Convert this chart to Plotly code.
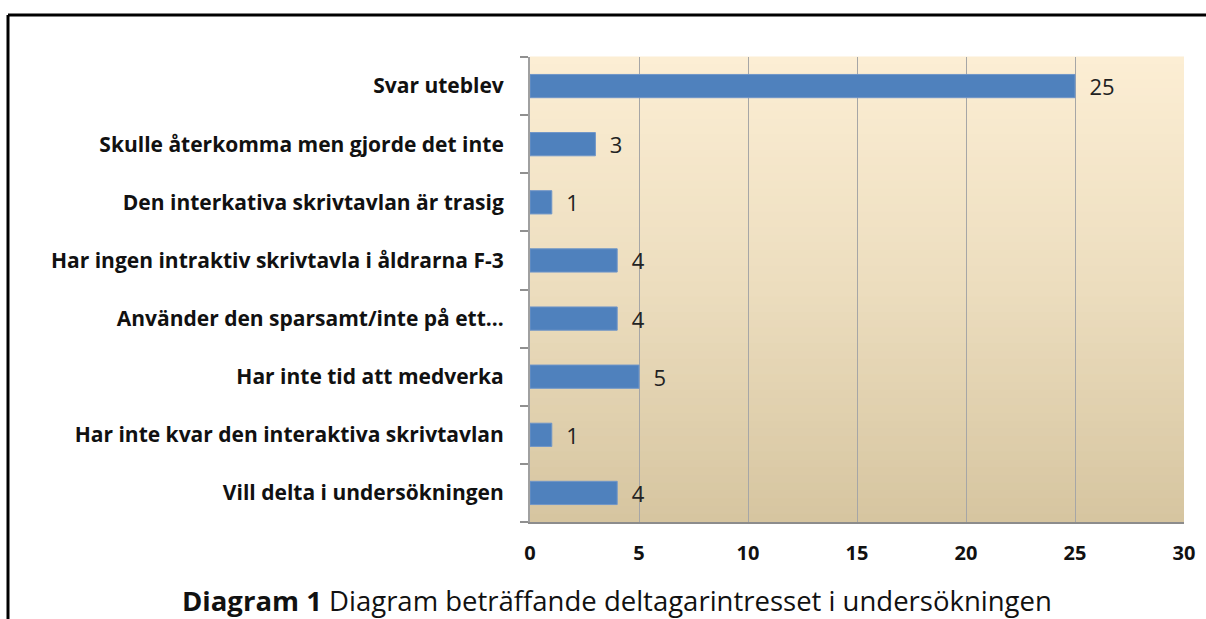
import plotly.graph_objects as go

categories = [
    "Svar uteblev",
    "Skulle återkomma men gjorde det inte",
    "Den interkativa skrivtavlan är trasig",
    "Har ingen intraktiv skrivtavla i åldrarna F-3",
    "Använder den sparsamt/inte på ett…",
    "Har inte tid att medverka",
    "Har inte kvar den interaktiva skrivtavlan",
    "Vill delta i undersökningen",
]
values = [25, 3, 1, 4, 4, 5, 1, 4]
x_ticks = [0, 5, 10, 15, 20, 25, 30]
title_bold = "Diagram 1"
title_rest = "Diagram beträffande deltagarintresset i undersökningen"

W, H = 1206, 619
L, R, T, B = 530, 22, 57, 97
pw, ph = W - L - R, H - T - B

def px_x(x):
    return (x - L) / pw

def px_y(y):
    return (H - B - y) / ph

FONT = "Open Sans"

fig = go.Figure()
fig.add_trace(go.Bar(
    y=categories,
    x=values,
    orientation="h",
    marker=dict(color="#4F81BD", line=dict(color="#7096C8", width=1)),
    text=values,
    texttemplate="\u00a0\u00a0%{x}",
    textposition="outside",
    constraintext="none",
    textfont=dict(family=FONT, size=22, color="#222222"),
    cliponaxis=False,
    showlegend=False,
))

shapes = []
top = (252, 238, 212)
mid = (236, 221, 190)
bot = (214, 197, 160)
n = 60
for i in range(n):
    f = (i + 0.5) / n
    if f < 0.5:
        g = f / 0.5
        c = tuple(round(top[k] + (mid[k] - top[k]) * g) for k in range(3))
    else:
        g = (f - 0.5) / 0.5
        c = tuple(round(mid[k] + (bot[k] - mid[k]) * g) for k in range(3))
    y1 = 1 - i / n
    y0 = 1 - (i + 1) / n
    shapes.append(dict(type="rect", xref="paper", yref="paper", x0=0, x1=1,
                       y0=y0 - 0.001, y1=y1 + 0.001, fillcolor="rgb(%d,%d,%d)" % c,
                       line=dict(width=0), layer="below"))
shapes.append(dict(type="line", xref="paper", yref="paper",
                   x0=px_x(8), x1=px_x(1215), y0=px_y(15), y1=px_y(15),
                   line=dict(color="black", width=3), layer="above"))
shapes.append(dict(type="line", xref="paper", yref="paper",
                   x0=px_x(8), x1=px_x(8), y0=px_y(15), y1=px_y(630),
                   line=dict(color="black", width=3), layer="above"))

fig.update_layout(
    width=W, height=H,
    margin=dict(l=L, r=R, t=T, b=B),
    paper_bgcolor="white",
    plot_bgcolor="rgba(0,0,0,0)",
    bargap=0.6,
    shapes=shapes,
    font=dict(family=FONT),
    annotations=[dict(
        text="<b>%s</b> %s" % (title_bold, title_rest),
        xref="paper", yref="paper", x=px_x(617), y=px_y(600),
        xanchor="center", yanchor="middle", showarrow=False,
        font=dict(family=FONT, size=27.5, color="#111111"),
    )],
)
fig.update_xaxes(
    range=[0, 30], tickvals=x_ticks,
    showgrid=True, gridcolor="#A6A6A6", gridwidth=1,
    showline=True, linecolor="#8C8C8C", linewidth=2,
    ticks="", ticklabelstandoff=12,
    tickfont=dict(family=FONT, size=20, color="#111111", weight="bold"),
    zeroline=False, fixedrange=True,
)
fig.update_yaxes(
    categoryorder="array", categoryarray=categories[::-1],
    autorange=False, range=[-0.5, len(categories) - 0.5],
    showline=True, linecolor="#A0A0A0", linewidth=2,
    ticks="outside", ticklen=8, tickcolor="#909090", tickwidth=2,
    tickson="boundaries", ticklabelstandoff=20,
    tickfont=dict(family=FONT, size=21, color="#111111", weight="bold"),
    showgrid=False, fixedrange=True,
)

fig.write_html("out.html", config={"displayModeBar": False},
               post_script="document.body.style.margin='0';")
